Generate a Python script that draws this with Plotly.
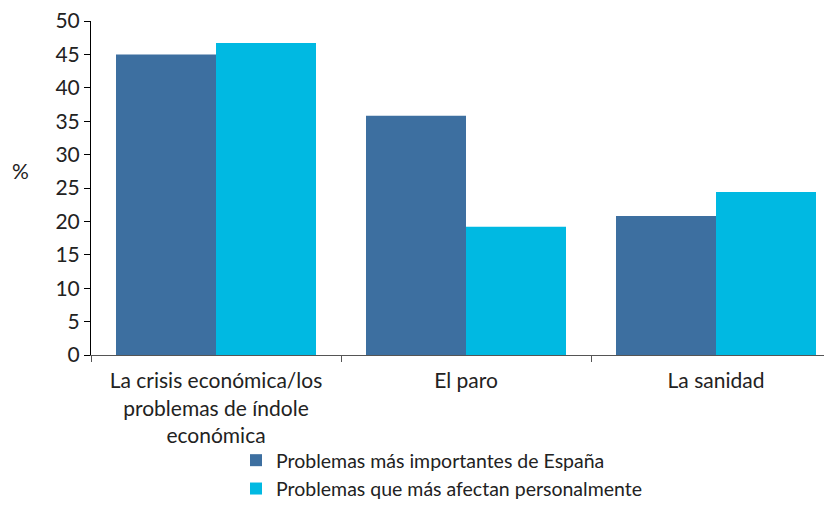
import plotly.graph_objects as go

categories = ["La crisis económica/los<br>problemas de índole<br>económica", "El paro", "La sanidad"]
series_names = ["Problemas más importantes de España", "Problemas que más afectan personalmente"]
espana = [45.0, 35.8, 20.8]
personal = [46.7, 19.2, 24.4]
y_ticks = [0, 5, 10, 15, 20, 25, 30, 35, 40, 45, 50]

FONT = "Lato, Open Sans, sans-serif"
# page body has an 8px margin; work in figure coordinates
W, H = 824, 500
L, T, B = 83, 13, 153
PLOT_W = W - L
PLOT_H = H - T - B

fig = go.Figure()
fig.add_trace(go.Bar(x=categories, y=espana, name=series_names[0], marker_color="#3D6FA0",
                     marker_line_width=0))
fig.add_trace(go.Bar(x=categories, y=personal, name=series_names[1], marker_color="#00B9E2",
                     marker_line_width=0))

fig.update_layout(
    width=W, height=H,
    margin=dict(l=L, r=0, t=T, b=B, autoexpand=False),
    barmode="group", bargap=0.2, bargroupgap=0,
    plot_bgcolor="white", paper_bgcolor="white",
    font=dict(family=FONT, size=19, color="#222222"),
    showlegend=True,
    legend=dict(x=(228 - L) / PLOT_W, y=-B / PLOT_H, xanchor="left", yanchor="bottom",
                orientation="v", font=dict(size=19.5, color="#222222"), itemwidth=30,
                tracegroupgap=0, traceorder="normal", bgcolor="rgba(0,0,0,0)",
                borderwidth=0),
    annotations=[dict(text="%", xref="paper", yref="paper", x=(12 - L) / PLOT_W,
                      y=((H - B) - 162) / PLOT_H, xanchor="center", yanchor="middle",
                      showarrow=False, font=dict(size=21))],
)

fig.update_xaxes(range=[-0.5, -0.5 + PLOT_W / 250], showline=True, linecolor="#555555", linewidth=1,
                 ticks="outside", tickson="boundaries", ticklen=6, tickcolor="#555555",
                 showgrid=False, tickfont=dict(size=21), automargin=False,
                 ticklabelstandoff=7)
fig.update_yaxes(range=[0, 50], tickvals=y_ticks, showline=True, linecolor="#000000", linewidth=1,
                 ticks="outside", ticklen=6, tickcolor="#000000", showgrid=False, zeroline=False,
                 tickfont=dict(size=21), automargin=False, ticksuffix="\u00a0\u00a0",
                 ticklabeloverflow="allow")

fig.write_html("out.html")
